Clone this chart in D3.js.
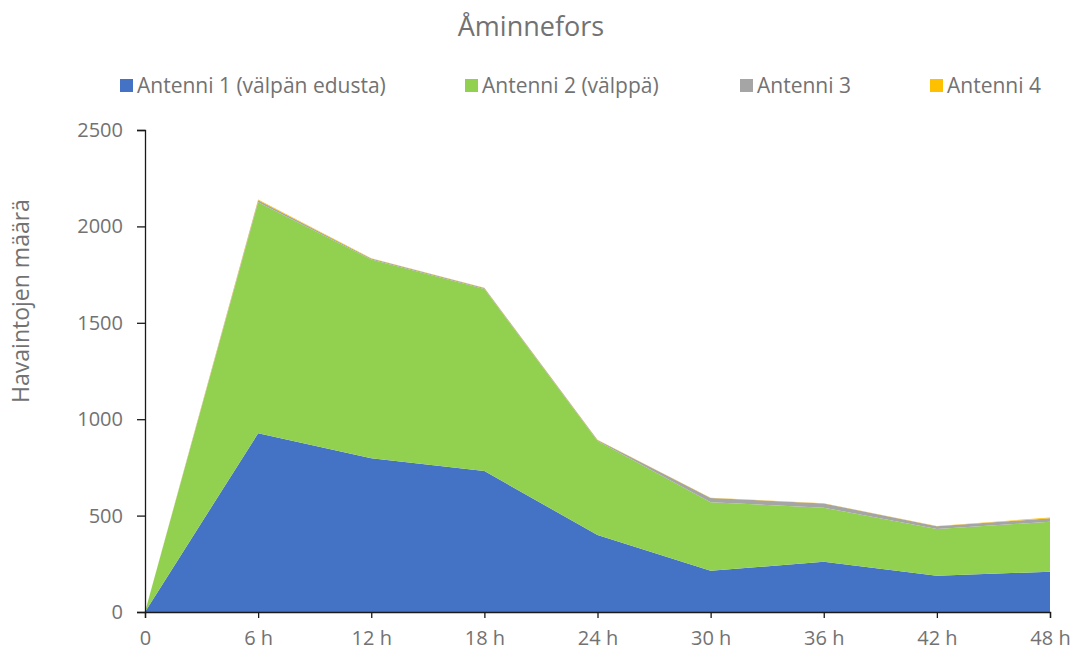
<!DOCTYPE html>
<html>
<head>
<meta charset="utf-8">
<script src="https://cdn.jsdelivr.net/npm/d3@7"></script>
<style>
  html, body { margin: 0; padding: 0; background: #fff; }
  svg { display: block; font-family: "Open Sans", "Noto Sans", sans-serif; }
</style>
</head>
<body>
<svg id="chart" width="1074" height="653"></svg>
<script>
// Observation counts per antenna, every 6 hours
const categories = ["0", "6 h", "12 h", "18 h", "24 h", "30 h", "36 h", "42 h", "48 h"];
const seriesNames = ["Antenni 1 (välpän edusta)", "Antenni 2 (välppä)", "Antenni 3", "Antenni 4"];
const antenni1 = [0, 927, 797, 731, 399, 214, 261, 188, 209];
const antenni2 = [0, 1198, 1031, 944, 488, 355, 280, 242, 259];
const antenni3 = [0, 10, 5, 5, 5, 22, 22, 15, 18];
const antenni4 = [0, 5, 2, 2, 1, 2, 1, 1, 4];
const yTicks = [0, 500, 1000, 1500, 2000, 2500];
const colors = ["#4472C4", "#92D050", "#A5A5A5", "#FFC000"];

const rows = categories.map((c, i) => ({
  cat: c, s0: antenni1[i], s1: antenni2[i], s2: antenni3[i], s3: antenni4[i]
}));

const svg = d3.select("#chart");
const margin = { left: 145, right: 24, top: 130, bottom: 41 };
const W = 1074, H = 653;

const x = d3.scalePoint().domain(categories).range([margin.left, W - margin.right]);
const y = d3.scaleLinear().domain([0, 2500]).range([H - margin.bottom, margin.top]);

const stack = d3.stack().keys(["s0", "s1", "s2", "s3"]);
const layers = stack(rows);

const area = d3.area()
  .x(d => x(d.data.cat))
  .y0(d => y(d[0]))
  .y1(d => y(d[1]));

svg.append("g").selectAll("path")
  .data(layers)
  .join("path")
  .attr("d", area)
  .attr("fill", (d, i) => colors[i]);

const textColor = "#727272";
const axisColor = "#1a1a1a";
const font = "'Open Sans', sans-serif";

// Y axis
const yAxis = svg.append("g")
  .attr("transform", `translate(${margin.left},0)`)
  .call(d3.axisLeft(y).tickValues(yTicks).tickSize(8).tickPadding(14).tickFormat(d3.format("d")));
yAxis.select(".domain").attr("stroke", axisColor).attr("stroke-width", 1.3);
yAxis.selectAll(".tick line").attr("stroke", axisColor).attr("stroke-width", 1.3);
yAxis.selectAll("text").attr("fill", textColor).attr("font-size", 20).attr("font-family", font);

// X axis
const xAxis = svg.append("g")
  .attr("transform", `translate(0,${H - margin.bottom})`)
  .call(d3.axisBottom(x).tickSize(6).tickPadding(13));
xAxis.select(".domain").attr("stroke", axisColor).attr("stroke-width", 1.3);
xAxis.selectAll(".tick line").attr("stroke", axisColor).attr("stroke-width", 1.3);
xAxis.selectAll("text").attr("fill", textColor).attr("font-size", 20).attr("font-family", font);

// Title
svg.append("text")
  .attr("x", 531).attr("y", 36)
  .attr("text-anchor", "middle")
  .attr("fill", textColor)
  .attr("font-size", 27)
  .text("Åminnefors");

// Y axis title
svg.append("text")
  .attr("transform", "translate(29,301) rotate(-90)")
  .attr("text-anchor", "middle")
  .attr("fill", textColor)
  .attr("font-size", 23)
  .text("Havaintojen määrä");

// Legend
const legendX = [120, 465, 740, 930];
const legend = svg.append("g").selectAll("g")
  .data(seriesNames)
  .join("g")
  .attr("transform", (d, i) => `translate(${legendX[i]},79)`);
legend.append("rect")
  .attr("width", 13).attr("height", 13)
  .attr("fill", (d, i) => colors[i]);
legend.append("text")
  .attr("x", 17).attr("y", 14)
  .attr("fill", textColor)
  .attr("font-size", 21)
  .text(d => d);
</script>
</body>
</html>
